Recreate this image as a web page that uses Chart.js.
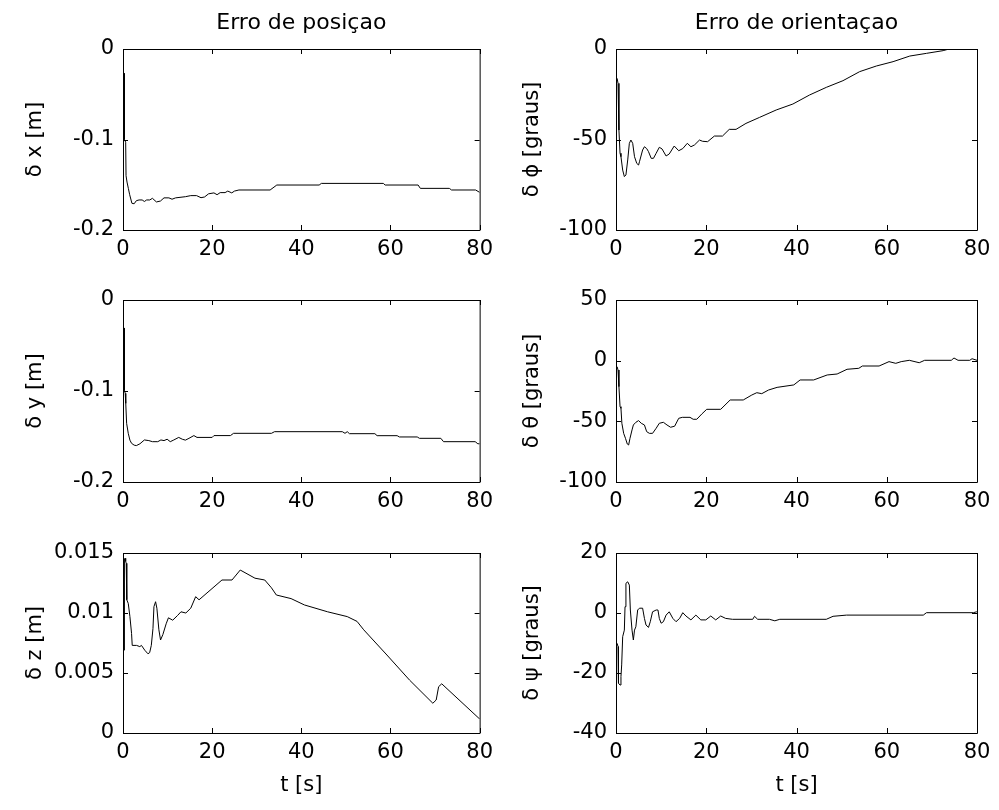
<!DOCTYPE html>
<html lang="pt">
<head>
<meta charset="UTF-8">
<title>Erro de posiçao / orientaçao</title>
<script src="https://cdn.jsdelivr.net/npm/chart.js@4"></script>
<style>
  body { margin: 0; background: #fff; }
  #fig { position: relative; width: 999px; height: 810px; }
  #fig canvas { position: absolute; }
</style>
</head>
<body>
<div id="fig">
  <canvas id="cDx" width="500" height="260" style="left:0;top:0"></canvas>
  <canvas id="cPhi" width="499" height="260" style="left:500px;top:0"></canvas>
  <canvas id="cDy" width="500" height="252" style="left:0;top:260px"></canvas>
  <canvas id="cTheta" width="499" height="252" style="left:500px;top:260px"></canvas>
  <canvas id="cDz" width="500" height="298" style="left:0;top:512px"></canvas>
  <canvas id="cPsi" width="499" height="298" style="left:500px;top:512px"></canvas>
</div>
<script>
// eixo do tempo (comum)
const xTicks = [0, 20, 40, 60, 80];

// erro de posição
const tDx = [0, 0.3, 0.32, 0.6, 0.68, 0.9, 1.2, 1.5, 2.0, 2.5, 3.0, 3.6, 4.3, 4.8, 5.3, 6.0, 6.6, 7.5, 8.4, 9.2, 10.3, 11.0, 11.8, 14.0, 15.2, 16.5, 17.5, 18.3, 19.2, 20.4, 21.1, 21.8, 22.9, 23.5, 24.4, 25.0, 26.0, 33.0, 34.5, 44.0, 44.5, 58.4, 58.8, 66.2, 66.7, 73.2, 73.7, 79.1, 80];
const dx = [-0.027, -0.027, -0.100, -0.103, -0.140, -0.147, -0.154, -0.161, -0.1705, -0.171, -0.1676, -0.1668, -0.1668, -0.1685, -0.1668, -0.1668, -0.165, -0.169, -0.168, -0.1645, -0.1645, -0.166, -0.1645, -0.1632, -0.162, -0.162, -0.1643, -0.1635, -0.160, -0.159, -0.161, -0.1587, -0.1587, -0.157, -0.159, -0.157, -0.1558, -0.1558, -0.1503, -0.1503, -0.1485, -0.1485, -0.1503, -0.1503, -0.154, -0.154, -0.1558, -0.1558, -0.1584];
const dxTicks = [-0.2, -0.1, 0];

const tDy = [0, 0.3, 0.32, 0.5, 0.62, 0.81, 1.18, 1.55, 1.92, 2.5, 3.0, 3.8, 4.8, 5.8, 6.6, 7.8, 8.5, 9.2, 9.9, 10.6, 11.4, 12.5, 13.3, 14.0, 14.8, 15.9, 16.6, 20.0, 20.4, 24.1, 24.8, 33.3, 34.0, 49.2, 49.8, 50.3, 50.8, 56.5, 57.0, 61.5, 62.0, 66.0, 66.5, 71.3, 71.9, 79.0, 79.6, 80];
const dy = [-0.031, -0.031, -0.099, -0.1026, -0.1136, -0.1355, -0.1465, -0.154, -0.1575, -0.1595, -0.160, -0.158, -0.1538, -0.1545, -0.1557, -0.1557, -0.1538, -0.1545, -0.153, -0.1557, -0.1538, -0.151, -0.153, -0.154, -0.152, -0.149, -0.151, -0.151, -0.149, -0.149, -0.1465, -0.1465, -0.1447, -0.1447, -0.1465, -0.1447, -0.1469, -0.1469, -0.1491, -0.1491, -0.1505, -0.1505, -0.152, -0.152, -0.1557, -0.1557, -0.158, -0.158];
const dyTicks = [-0.2, -0.1, 0];

const tDz = [0.25, 0.32, 0.45, 0.6, 0.72, 0.85, 1.18, 1.55, 1.92, 2.07, 3.03, 3.77, 4.14, 4.88, 5.6, 5.98, 6.35, 6.72, 6.94, 7.31, 7.6, 8.05, 8.42, 8.94, 9.68, 10.19, 11.15, 12.26, 13.0, 14.1, 15.2, 16.3, 17.06, 22.2, 24.45, 26.3, 29.6, 31.8, 33.3, 34.4, 37.7, 40.7, 45.9, 50.3, 52.5, 54.0, 59.2, 64.3, 69.5, 70.25, 70.8, 71.5, 79.85, 80];
const dz = [0.0069, 0.0145, 0.01456, 0.0143, 0.01414, 0.0111, 0.0108, 0.0097, 0.0083, 0.0073, 0.0073, 0.0072, 0.0073, 0.0069, 0.0066, 0.0067, 0.0073, 0.0087, 0.01053, 0.01094, 0.0104, 0.0086, 0.00775, 0.0082, 0.0091, 0.0096, 0.0094, 0.0098, 0.0101, 0.0100, 0.0104, 0.01136, 0.0111, 0.01275, 0.01275, 0.01358, 0.0129, 0.01275, 0.0121, 0.0115, 0.0112, 0.01067, 0.0101, 0.0097, 0.0093, 0.0086, 0.0065, 0.0044, 0.00248, 0.00275, 0.00386, 0.0041, 0.00122, 0.0012];
const dzTicks = [0, 0.005, 0.01, 0.015];

// erro de orientação
const tPhi = [0.25, 0.45, 0.65, 0.9, 1.1, 1.48, 1.85, 2.2, 2.6, 2.96, 3.3, 3.7, 4.1, 4.6, 5.0, 5.2, 5.9, 6.3, 6.8, 7.2, 7.8, 8.3, 8.9, 9.6, 10.2, 11.1, 11.8, 12.9, 13.9, 14.8, 15.8, 16.6, 17.4, 18.5, 19.2, 20.3, 21.8, 23.6, 25.1, 26.6, 28.8, 31.8, 35.5, 39.2, 42.9, 46.6, 50.3, 54.0, 57.7, 61.4, 65.1, 68.8, 72.5, 73.8, 80];
const phi = [-16.2, -19, -44.8, -57.6, -59.5, -66.9, -70.5, -69.6, -61.3, -52.1, -50.3, -52.1, -59.5, -63.2, -64.1, -62.3, -55.8, -54, -55, -56.7, -60.4, -60.4, -57.6, -54.3, -55.2, -59.1, -58, -53.6, -56.2, -55, -52.1, -54, -53, -50.3, -51, -51.2, -48.1, -48.1, -44.4, -44.4, -41.1, -37.8, -33.7, -30.4, -25.4, -21.2, -17.5, -12.5, -9.4, -7, -3.9, -2.4, -0.9, 0, 0];
const phiTicks = [-100, -50, 0];

const tTheta = [0.25, 0.45, 0.65, 0.9, 1.1, 1.3, 1.7, 2.1, 2.5, 2.8, 3.1, 3.55, 3.85, 4.4, 5.0, 5.6, 6.3, 6.8, 7.4, 8.1, 8.9, 9.6, 10.5, 11.3, 12.1, 13.0, 13.9, 14.7, 16.4, 17.1, 17.9, 19.0, 20.1, 23.2, 25.3, 28.2, 30.1, 31.2, 32.3, 33.8, 35.7, 39.4, 40.8, 43.8, 46.8, 49.0, 51.2, 53.8, 54.6, 58.3, 60.5, 62.0, 63.2, 65.0, 67.2, 68.4, 74.3, 74.9, 75.8, 78.4, 78.9, 80];
const theta = [-5, -7.7, -21.4, -37.9, -39.3, -51.6, -59.9, -64, -68.7, -69.5, -64, -57.1, -53, -50.8, -49.4, -51.6, -53, -58.5, -59.9, -59.9, -55.7, -51.6, -50.8, -53, -54.9, -54, -47.5, -46.7, -46.7, -48.3, -48.3, -44, -40.1, -40.1, -32.4, -32.4, -28.3, -26.4, -27.2, -24.2, -22, -20, -15.9, -15.9, -11.8, -11, -7.1, -6.3, -4.4, -4.4, -0.8, -2.2, -0.8, 0.3, -1.7, 0.3, 0.3, 2.2, 0.3, 0.3, 1.6, 0.3];
const thetaTicks = [-100, -50, 0, 50];

const tPsi = [0.25, 0.45, 0.55, 0.89, 1.1, 1.26, 1.48, 1.85, 2.0, 2.2, 2.6, 2.96, 3.18, 3.55, 3.85, 4.1, 4.4, 4.8, 5.2, 5.9, 6.3, 6.65, 7.2, 7.6, 8.1, 8.9, 9.3, 9.6, 10.0, 10.5, 11.1, 11.8, 12.6, 13.3, 14.1, 14.8, 15.5, 16.6, 17.7, 18.8, 19.9, 21.0, 22.1, 23.2, 24.3, 25.8, 30.3, 30.7, 31.4, 34.0, 35.2, 36.3, 46.6, 48.1, 51.1, 68.1, 68.8, 79.2, 79.9, 80];
const psi = [-10.1, -11.2, -23.4, -24, -21.2, -17.3, -7.9, -5.7, 2.1, 9.9, 10.4, 9.3, 1, -5.7, -9, -5.7, -4.6, 1, 1.6, 1.6, -1.8, -4, -4.8, -2.9, 0.4, 1, 1, -1.8, -3.4, -2.9, -0.7, 0.4, -1.8, -2.9, -1.8, 0.1, -1, -2.3, -0.7, -2.3, -2.3, -1, -2.3, -1, -1.8, -2.1, -2.1, -1.1, -2.1, -2.1, -2.6, -2.1, -2.1, -1.1, -0.7, -0.7, 0.1, 0.1, 0.4, 0.4];
const psiTicks = [-40, -20, 0, 20];

const FONT = "'DejaVu Sans', sans-serif";

// caixa estilo MATLAB com marcas para dentro nos quatro lados
const matlabBox = {
  id: 'matlabBox',
  afterDatasetsDraw(chart) {
    const { ctx, chartArea: a, scales: { x, y } } = chart;
    const L = 5;
    ctx.save();
    ctx.strokeStyle = '#000';
    ctx.lineWidth = 1;
    ctx.beginPath();
    ctx.rect(a.left + 0.5, a.top + 0.5, a.right - a.left, a.bottom - a.top);
    x.ticks.forEach(tk => {
      const px = Math.round(x.getPixelForValue(tk.value)) + 0.5;
      ctx.moveTo(px, a.bottom); ctx.lineTo(px, a.bottom - L);
      ctx.moveTo(px, a.top); ctx.lineTo(px, a.top + L);
    });
    y.ticks.forEach(tk => {
      const py = Math.round(y.getPixelForValue(tk.value)) + 0.5;
      ctx.moveTo(a.left, py); ctx.lineTo(a.left + L, py);
      ctx.moveTo(a.right, py); ctx.lineTo(a.right - L, py);
    });
    ctx.stroke();
    ctx.restore();
  }
};

function fmt(v) {
  const r = Math.round(v * 1e6) / 1e6;
  return String(r === 0 ? 0 : r);
}

function subplot(id, t, v, yTicks, yLabel, o) {
  return new Chart(document.getElementById(id), {
    type: 'line',
    data: {
      datasets: [{
        data: t.map((tt, i) => ({ x: tt, y: v[i] })),
        borderColor: '#000',
        borderWidth: 1,
        pointRadius: 0,
        fill: false,
        tension: 0
      }]
    },
    options: {
      responsive: false,
      animation: false,
      events: [],
      layout: { padding: { top: o.padTop, right: o.padRight, bottom: 0, left: 0 } },
      plugins: {
        legend: { display: false },
        tooltip: { enabled: false },
        title: {
          display: !!o.title,
          fullSize: false,
          text: o.title || '',
          color: '#000',
          font: { family: FONT, size: 22, weight: 'normal' },
          padding: { top: 10, bottom: 12.6 }
        }
      },
      scales: {
        x: {
          type: 'linear',
          min: 0, max: 80,
          afterBuildTicks: s => { s.ticks = xTicks.map(value => ({ value })); },
          afterFit: s => { s.height = o.xH; },
          grid: { display: false, drawTicks: false },
          border: { display: false },
          ticks: { color: '#000', font: { family: FONT, size: 21 }, padding: 7, maxRotation: 0, autoSkip: false, callback: fmt },
          title: {
            display: !!o.xLabel,
            text: o.xLabel || '',
            color: '#000',
            font: { family: FONT, size: 21 },
            padding: { top: 0, bottom: 12 }
          }
        },
        y: {
          type: 'linear',
          min: yTicks[0], max: yTicks[yTicks.length - 1],
          afterBuildTicks: s => { s.ticks = yTicks.map(value => ({ value })); },
          afterFit: s => { s.width = o.yW; },
          grid: { display: false, drawTicks: false },
          border: { display: false },
          ticks: { color: '#000', font: { family: FONT, size: 21 }, padding: 9, autoSkip: false, callback: fmt },
          title: {
            display: true,
            text: yLabel,
            color: '#000',
            font: { family: FONT, size: 21 },
            padding: { top: o.yTitlePad, bottom: 0 }
          }
        }
      }
    },
    plugins: [matlabBox]
  });
}

const left = { yW: 123, padRight: 16, yTitlePad: 23 };
const right = { yW: 116, padRight: 22, yTitlePad: 20 };

subplot('cDx', tDx, dx, dxTicks, 'δ x [m]', { ...left, padTop: 0, xH: 30, title: 'Erro de posiçao' });
subplot('cPhi', tPhi, phi, phiTicks, 'δ ϕ [graus]', { ...right, padTop: 0, xH: 30, title: 'Erro de orientaçao' });
subplot('cDy', tDy, dy, dyTicks, 'δ y [m]', { ...left, padTop: 40, xH: 30 });
subplot('cTheta', tTheta, theta, thetaTicks, 'δ θ [graus]', { ...right, padTop: 40, xH: 30 });
subplot('cDz', tDz, dz, dzTicks, 'δ z [m]', { ...left, padTop: 41, xH: 77, xLabel: 't [s]' });
subplot('cPsi', tPsi, psi, psiTicks, 'δ ψ [graus]', { ...right, padTop: 41, xH: 77, xLabel: 't [s]' });
</script>
</body>
</html>
